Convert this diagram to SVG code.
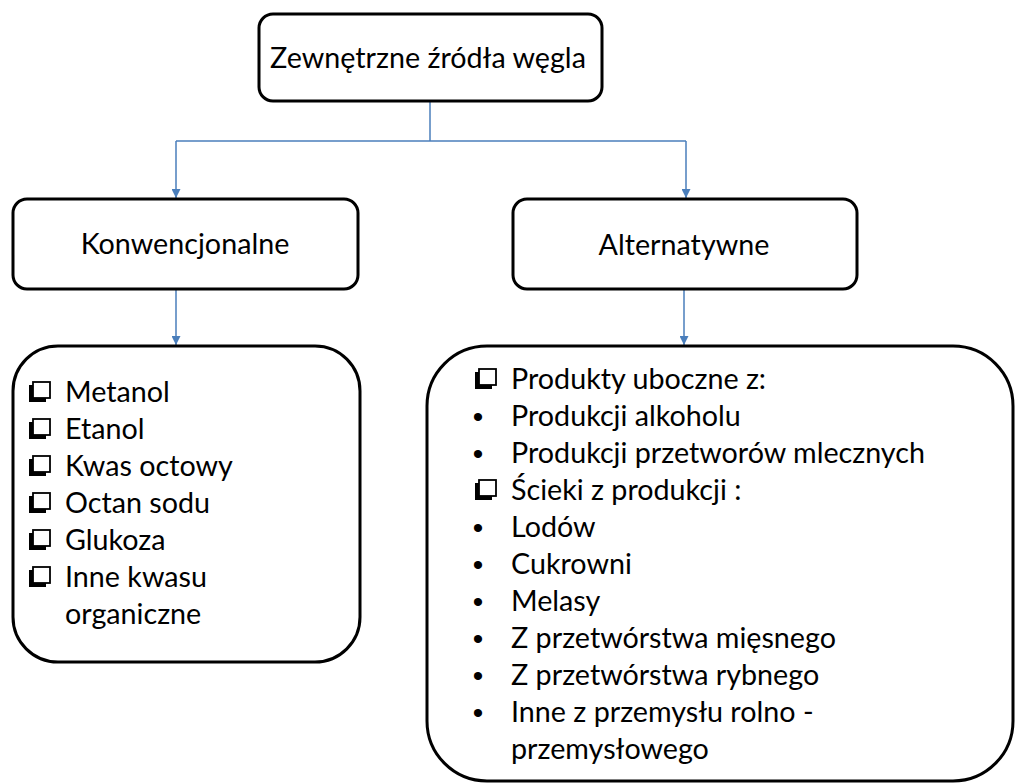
<svg xmlns="http://www.w3.org/2000/svg" width="1015" height="784" viewBox="0 0 1015 784">
  <style>
    .box { fill: #ffffff; stroke: #000000; stroke-width: 3; }
    .conn { fill: none; stroke: #4a7ebb; stroke-width: 1.5; }
    .t { font-family: Lato, "Liberation Sans", "Noto Sans", sans-serif; font-size: 28.7px; fill: #000000; }
    .mid { text-anchor: middle; }
    .dot { font-family: "Liberation Sans", Arial, sans-serif; font-size: 30px; text-anchor: middle; }
  </style>
  <defs>
    <marker id="arrow" viewBox="0 0 10 10" refX="10" refY="5" markerWidth="6" markerHeight="6" orient="auto" markerUnits="strokeWidth">
      <path d="M0,0 L10,5 L0,10 Z" fill="#4a7ebb"/>
    </marker>
    <!-- drop-shadowed square bullet -->
    <symbol id="chk" viewBox="0 0 22 21" width="22" height="21">
      <path d="M0,4 H4 V17 H17 V21 H0 Z" fill="#000000"/>
      <rect x="4" y="1" width="17" height="16" fill="#ffffff" stroke="#000000" stroke-width="1.8"/>
    </symbol>
  </defs>

  <g id="connectors">
    <path class="conn" d="M430,101 V141"/>
    <path class="conn" d="M176,141 H686"/>
    <path class="conn" d="M176,141 V198" marker-end="url(#arrow)"/>
    <path class="conn" d="M686,141 V198" marker-end="url(#arrow)"/>
    <path class="conn" d="M176,289 V345" marker-end="url(#arrow)"/>
    <path class="conn" d="M684,289 V345" marker-end="url(#arrow)"/>
  </g>

  <g id="node-root">
    <rect class="box" x="259" y="14" width="343" height="87" rx="14"/>
    <text class="t mid" x="428" y="68">Zewnętrzne źródła węgla</text>
  </g>

  <g id="node-conventional">
    <rect class="box" x="13" y="199" width="345" height="90" rx="14"/>
    <text class="t mid" x="185" y="254">Konwencjonalne</text>
  </g>

  <g id="node-alternative">
    <rect class="box" x="513" y="199" width="344" height="90" rx="14"/>
    <text class="t mid" x="684" y="255">Alternatywne</text>
  </g>

  <g id="node-conventional-list">
    <rect class="box" x="13" y="346" width="347" height="316" rx="45"/>
    <use href="#chk" x="29" y="381"/>
    <use href="#chk" x="29" y="418"/>
    <use href="#chk" x="29" y="455"/>
    <use href="#chk" x="29" y="492"/>
    <use href="#chk" x="29" y="529"/>
    <use href="#chk" x="29" y="566"/>
    <text class="t" x="65" y="402">Metanol</text>
    <text class="t" x="65" y="439">Etanol</text>
    <text class="t" x="65" y="476">Kwas octowy</text>
    <text class="t" x="65" y="513">Octan sodu</text>
    <text class="t" x="65" y="550">Glukoza</text>
    <text class="t" x="65" y="587">Inne kwasu</text>
    <text class="t" x="65" y="624">organiczne</text>
  </g>

  <g id="node-alternative-list">
    <rect class="box" x="427" y="346" width="586" height="435" rx="60"/>
    <use href="#chk" x="475" y="368"/>
    <use href="#chk" x="475" y="479"/>
    <text class="dot" x="478" y="427">•</text>
    <text class="dot" x="478" y="464">•</text>
    <text class="dot" x="478" y="538">•</text>
    <text class="dot" x="478" y="575">•</text>
    <text class="dot" x="478" y="612">•</text>
    <text class="dot" x="478" y="649">•</text>
    <text class="dot" x="478" y="686">•</text>
    <text class="dot" x="478" y="723">•</text>
    <text class="t" x="511" y="389">Produkty uboczne z:</text>
    <text class="t" x="511" y="426">Produkcji alkoholu</text>
    <text class="t" x="511" y="463">Produkcji przetworów mlecznych</text>
    <text class="t" x="511" y="500">Ścieki z produkcji :</text>
    <text class="t" x="511" y="537">Lodów</text>
    <text class="t" x="511" y="574">Cukrowni</text>
    <text class="t" x="511" y="611">Melasy</text>
    <text class="t" x="511" y="648">Z przetwórstwa mięsnego</text>
    <text class="t" x="511" y="685">Z przetwórstwa rybnego</text>
    <text class="t" x="511" y="722">Inne z przemysłu rolno -</text>
    <text class="t" x="511" y="759">przemysłowego</text>
  </g>
</svg>
